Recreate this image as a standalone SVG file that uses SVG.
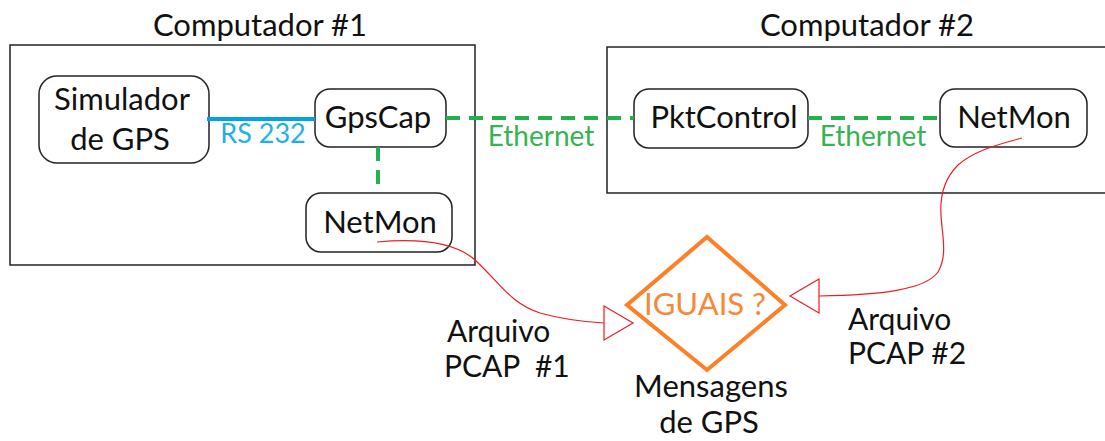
<svg xmlns="http://www.w3.org/2000/svg" width="1105" height="441" viewBox="0 0 1105 441">
<style>
text{font-family:Lato,"Open Sans","Liberation Sans",sans-serif;fill:#111;}
.t{font-size:31px;}
.s{font-size:30px;}
.c{text-anchor:middle;}
.box{fill:none;stroke:#222;stroke-width:1.5;}
.node{fill:#fff;stroke:#222;stroke-width:1.5;}
.eth{fill:#35b44f;font-size:28px;}
.rs{fill:#22aeec;font-size:27px;}
.dash{fill:none;stroke:#22b14c;stroke-width:4;stroke-dasharray:14 9;}
.red{fill:none;stroke:#ed1c24;stroke-width:1.2;}
.arr{fill:#fff;stroke:#ed1c24;stroke-width:1.2;}
</style>
<rect width="1105" height="441" fill="#fff"/>
<g id="computador1">
<rect class="box" x="10" y="45" width="465" height="220"/>
<text class="t c" x="260" y="36">Computador #1</text>
</g>
<g id="computador2">
<path class="box" d="M1110,47 H607 V193 H1110"/>
<text class="t c" x="867" y="36">Computador #2</text>
</g>
<g id="simulador">
<rect class="node" x="39" y="76" width="170" height="87" rx="18"/>
<text class="t c" x="122" y="110">Simulador</text>
<text class="t c" x="120" y="150">de GPS</text>
</g>
<g id="gpscap">
<rect class="node" x="315" y="89" width="131" height="58" rx="15"/>
<text class="t c" x="378" y="128">GpsCap</text>
</g>
<g id="netmon1">
<rect class="node" x="306" y="193" width="146" height="59" rx="15"/>
<text class="t c" x="380" y="233">NetMon</text>
</g>
<g id="pktcontrol">
<rect class="node" x="634" y="89" width="174" height="59" rx="15"/>
<text class="t c" x="724" y="128">PktControl</text>
</g>
<g id="netmon2">
<rect class="node" x="940" y="89" width="147" height="58" rx="15"/>
<text class="t c" x="1014" y="128">NetMon</text>
</g>
<g id="iguais">
<polygon points="707,237 785,305 707,370 627,305" fill="#fff" stroke="#ff7f27" stroke-width="4" stroke-linejoin="miter"/>
<text class="t c" x="705" y="315" style="fill:#f7883a">IGUAIS ?</text>
</g>
<g id="labels">
<text class="s" x="447" y="342">Arquivo</text>
<text class="s" x="444" y="377" style="white-space:pre">PCAP  #1</text>
<text class="s" x="848" y="330">Arquivo</text>
<text class="s" x="848" y="364">PCAP #2</text>
<text class="t c" x="711" y="397">Mensagens</text>
<text class="t c" x="709" y="433">de GPS</text>
</g>
<g id="connectors">
<line x1="207" y1="119" x2="315" y2="119" stroke="#00a2e8" stroke-width="4"/>
<line class="dash" x1="446" y1="118" x2="634" y2="118"/>
<line class="dash" x1="808" y1="118" x2="940" y2="118"/>
<line class="dash" x1="378" y1="147" x2="378" y2="193"/>
<path class="red" d="M377,242 C420,238 455,242 475,260 C500,283 510,303 540,313 C565,320 585,322 604,323"/>
<polygon class="arr" points="604,306 633,323 604,340"/>
<path class="red" d="M1022,138 C1000,144 975,150 958,165 C943,180 940,200 941,215 C942,235 948,255 938,272 C925,290 880,295 819,296"/>
<polygon class="arr" points="819,279 790,296 819,313"/>
<text class="rs c" x="263" y="143">RS 232</text>
<text class="eth c" x="541" y="146">Ethernet</text>
<text class="eth c" x="873" y="146">Ethernet</text>
</g>
</svg>
